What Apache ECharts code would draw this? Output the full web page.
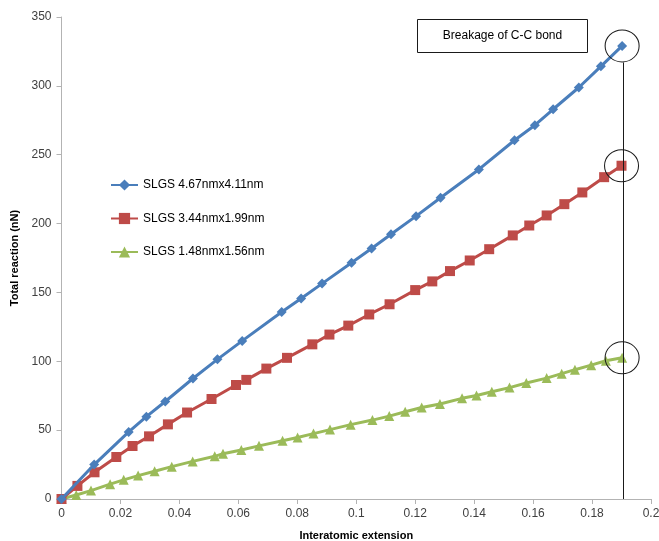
<!DOCTYPE html>
<html>
<head>
<meta charset="utf-8">
<script src="https://cdn.jsdelivr.net/npm/echarts@6/dist/echarts.min.js"></script>
<style>html,body{margin:0;padding:0;background:#fff;}#c{width:659px;height:541px;}</style>
</head>
<body>
<div id="c"></div>
<script>
const seriesNames = ['SLGS 4.67nmx4.11nm', 'SLGS 3.44nmx1.99nm', 'SLGS 1.48nmx1.56nm'];
const xTickLabels = ['0','0.02','0.04','0.06','0.08','0.1','0.12','0.14','0.16','0.18','0.2'];
const yTickLabels = ['0','50','100','150','200','250','300','350'];
const blueData = [
  [0,0],[0.0111,25],[0.0228,48.7],[0.0288,59.8],[0.0352,70.8],[0.0446,87.5],[0.0529,101.4],
  [0.0613,114.8],[0.0747,135.8],[0.0813,145.6],[0.0884,156.4],[0.0984,171.5],[0.1052,181.9],
  [0.1118,192.3],[0.1203,205.4],[0.1286,218.7],[0.1416,239.3],[0.1537,260.5],[0.1606,271.4],
  [0.1668,283.0],[0.1755,298.8],[0.1830,314.2],[0.1902,329.0]
];
const redData = [
  [0,0],[0.0054,9.5],[0.0112,19.4],[0.0186,30.5],[0.0241,38.5],[0.0297,45.5],[0.0361,54.2],
  [0.0426,62.8],[0.0509,72.6],[0.0592,82.8],[0.0627,86.5],[0.0695,94.7],[0.0765,102.5],
  [0.0851,112.3],[0.0909,119.4],[0.0973,125.9],[0.1044,134.0],[0.1113,141.4],[0.1200,151.7],
  [0.1258,158.0],[0.1318,165.5],[0.1385,173.2],[0.1451,181.4],[0.1531,191.4],[0.1587,198.6],
  [0.1646,205.9],[0.1706,214.1],[0.1767,222.6],[0.1841,233.7],[0.1900,242.0]
];
const greenData = [
  [0,0],[0.0050,2.9],[0.0100,6.1],[0.0165,10.8],[0.0211,13.9],[0.0260,17.0],[0.0316,20.2],
  [0.0374,23.5],[0.0445,27.3],[0.0520,31.0],[0.0548,32.9],[0.0610,35.6],[0.0670,38.6],
  [0.0750,42.3],[0.0801,44.6],[0.0855,47.5],[0.0911,50.4],[0.0981,54.0],[0.1055,57.3],
  [0.1112,60.2],[0.1166,63.4],[0.1222,66.4],[0.1284,69.0],[0.1359,73.1],[0.1408,75.2],
  [0.1460,77.9],[0.1520,80.9],[0.1577,84.2],[0.1646,87.8],[0.1697,91.0],[0.1742,93.9],
  [0.1797,97.2],[0.1847,100.4],[0.1902,102.5]
];
const breakX = 0.1905;
const breakLineTop = 317;
const annotationText = 'Breakage of C-C bond';

const colors = ['#4A7EBB', '#BE4B48', '#9BBB59'];
const FONT = '"Liberation Sans", Arial, sans-serif';

function circleMark(data) {
  const last = data[data.length - 1];
  return {
    silent: true,
    symbol: 'circle',
    symbolSize: [34, 32],
    itemStyle: { color: 'rgba(0,0,0,0)', borderColor: '#1a1a1a', borderWidth: 1 },
    label: { show: false },
    data: [{ coord: last }]
  };
}

const chart = echarts.init(document.getElementById('c'), null, { renderer: 'canvas' });
chart.setOption({
  animation: false,
  backgroundColor: '#fff',
  textStyle: { fontFamily: FONT },
  grid: { left: 61.5, right: 8, top: 17, bottom: 42, containLabel: false, outerBoundsMode: 'none' },
  legend: {
    orient: 'vertical', left: 105, top: 173,
    itemWidth: 27, itemHeight: 14, itemGap: 19.5,
    textStyle: { fontSize: 12, color: '#000', fontFamily: FONT, lineHeight: 14 },
    data: seriesNames
  },
  xAxis: {
    type: 'value', min: 0, max: 0.2, interval: 0.02,
    name: 'Interatomic extension', nameLocation: 'middle', nameGap: 31,
    nameTextStyle: { fontSize: 11, fontWeight: 'bold', color: '#000', fontFamily: FONT },
    axisLine: { show: true, lineStyle: { color: '#B3B3B3', width: 1 } },
    axisTick: { show: true, inside: false, length: 5, lineStyle: { color: '#B3B3B3' } },
    axisLabel: { fontSize: 12, color: '#404040', margin: 9, hideOverlap: false,
      formatter: (v) => { const i = Math.round(v / 0.02); return xTickLabels[i] !== undefined ? xTickLabels[i] : ''; } },
    splitLine: { show: false }
  },
  yAxis: {
    type: 'value', min: 0, max: 350, interval: 50,
    name: 'Total reaction (nN)', nameLocation: 'middle', nameGap: 34, nameRotate: 90,
    nameTextStyle: { fontSize: 11, fontWeight: 'bold', color: '#000', fontFamily: FONT },
    axisLine: { show: true, lineStyle: { color: '#B3B3B3', width: 1 } },
    axisTick: { show: true, inside: false, length: 5, lineStyle: { color: '#B3B3B3' } },
    axisLabel: { fontSize: 12, color: '#404040', margin: 10,
      formatter: (v) => { const i = Math.round(v / 50); return yTickLabels[i] !== undefined ? yTickLabels[i] : ''; } },
    splitLine: { show: false }
  },
  series: [
    {
      name: seriesNames[0], type: 'line', data: blueData, color: colors[0],
      symbol: 'diamond', symbolSize: 10, showAllSymbol: true,
      lineStyle: { width: 3 }, itemStyle: { color: colors[0] }, z: 4,
      markPoint: circleMark(blueData),
      markLine: {
        silent: true, symbol: ['none', 'none'],
        lineStyle: { color: '#1a1a1a', width: 1, type: 'solid' },
        label: { show: false },
        data: [[{ coord: [breakX, breakLineTop] }, { coord: [breakX, 0] }]]
      }
    },
    {
      name: seriesNames[1], type: 'line', data: redData, color: colors[1],
      symbol: 'rect', symbolSize: 10, showAllSymbol: true,
      lineStyle: { width: 3 }, itemStyle: { color: colors[1] }, z: 3,
      markPoint: circleMark(redData)
    },
    {
      name: seriesNames[2], type: 'line', data: greenData, color: colors[2],
      symbol: 'triangle', symbolSize: 10, showAllSymbol: true,
      lineStyle: { width: 3 }, itemStyle: { color: colors[2] }, z: 2,
      markPoint: circleMark(greenData)
    }
  ],
  graphic: [
    {
      type: 'group', left: 417, top: 19,
      children: [
        { type: 'rect', shape: { x: 0, y: 0, width: 170, height: 33 },
          style: { fill: '#fff', stroke: '#1a1a1a', lineWidth: 1 } },
        { type: 'text', x: 85, y: 16.5,
          style: { text: annotationText, fill: '#000', fontSize: 12, fontFamily: FONT,
                   align: 'center', verticalAlign: 'middle' } }
      ]
    }
  ]
});
</script>
</body>
</html>
